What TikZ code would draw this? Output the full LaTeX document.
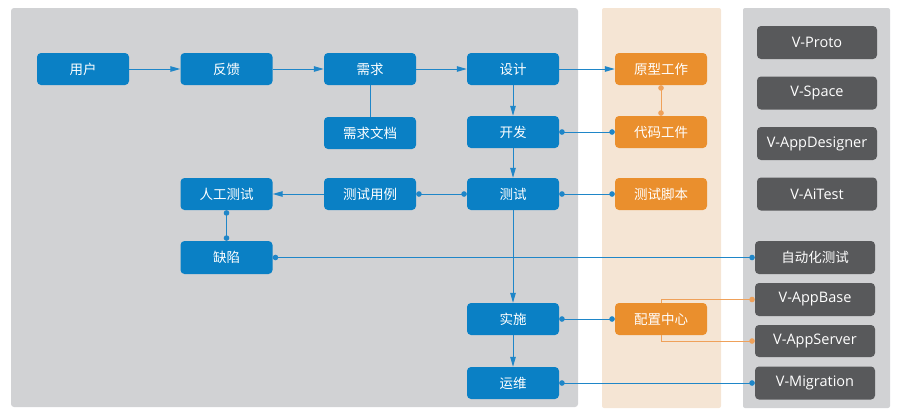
\documentclass[tikz,border=0pt]{standalone}
\usepackage{fontspec}
\setmainfont{Open Sans}
\newfontfamily\cjk{Noto Sans CJK SC}
\usetikzlibrary{arrows.meta}
\definecolor{pgray}{HTML}{D1D2D4}
\definecolor{porange}{HTML}{F5E5D4}
\definecolor{nblue}{HTML}{0A80C5}
\definecolor{norange}{HTML}{EA8F2D}
\definecolor{ndark}{HTML}{58595B}
\definecolor{lblue}{HTML}{1F86C8}
\definecolor{lorange}{HTML}{EFA15A}
\tikzset{
  bnode/.style={rectangle, rounded corners=4pt, fill=nblue, text=white, minimum width=92pt, minimum height=32pt, inner sep=0pt, font=\cjk\fontsize{13.5}{16}\selectfont},
  onode/.style={bnode, fill=norange},
  dnode/.style={rectangle, rounded corners=4pt, fill=ndark, text=white, minimum width=120pt, minimum height=33pt, inner sep=0pt, font=\fontsize{14.5}{16}\selectfont},
  cnode/.style={dnode, font=\cjk\fontsize{13.5}{16}\selectfont},
  blink/.style={draw=lblue, line width=1pt},
  olink/.style={draw=lorange, line width=1pt},
  arr/.style={-{Triangle[length=10pt,width=5.5pt]}},
  dots/.style={{Circle[length=5.5pt,width=5.5pt]}-{Circle[length=5.5pt,width=5.5pt]}},
  dotend/.style={-{Circle[length=5.5pt,width=5.5pt]}},
}
\begin{document}
\begin{tikzpicture}[x=1pt,y=-1pt]
\useasboundingbox (0,0) rectangle (900,418);
\fill[pgray, rounded corners=3pt] (11,8) rectangle (578,407);
\fill[porange, rounded corners=2pt] (602,8) rectangle (721,408);
\fill[pgray, rounded corners=2pt] (743,8) rectangle (890,408);

\node[bnode] (user) at (83,69) {用户};
\node[bnode] (fb) at (226.5,69) {反馈};
\node[bnode] (req) at (370,69) {需求};
\node[bnode] (reqdoc) at (370,133) {需求文档};
\node[bnode] (manual) at (226.5,194) {人工测试};
\node[bnode] (tcase) at (370,194) {测试用例};
\node[bnode] (design) at (513,69) {设计};
\node[bnode] (dev) at (513,132) {开发};
\node[bnode] (test) at (513,194) {测试};
\node[bnode, minimum height=33pt] (defect) at (226.5,257.5) {缺陷};
\node[bnode] (impl) at (513,319) {实施};
\node[bnode] (ops) at (513,383) {运维};

\node[onode] (proto) at (661,69) {原型工作};
\node[onode] (code) at (661,132) {代码工件};
\node[onode] (tscript) at (661,194) {测试脚本};
\node[onode] (config) at (661,319) {配置中心};

\node[dnode] (vproto) at (817,42.5) {V-Proto};
\node[dnode] (vspace) at (817,93) {V-Space};
\node[dnode] (vad) at (817,143.5) {V-AppDesigner};
\node[dnode] (vai) at (817,194) {V-AiTest};
\node[cnode] (auto) at (815,257.5) {自动化测试};
\node[dnode] (base) at (815,299.5) {V-AppBase};
\node[dnode, minimum height=32pt] (server) at (815,341) {V-AppServer};
\node[dnode] (mig) at (815,383) {V-Migration};

\draw[blink, arr] (user) -- (fb);
\draw[blink, arr] (fb) -- (req);
\draw[blink, arr] (req) -- (design);
\draw[blink] (req) -- (reqdoc);
\draw[blink, arr] (design) -- (proto);
\draw[blink, arr] (design) -- (dev);
\draw[blink, arr] (dev) -- (test);
\draw[blink, dots] (dev) -- (code);
\draw[olink, dots] (proto) -- (code);
\draw[blink, dots] (test) -- (tscript);
\draw[blink, dots] (test) -- (tcase);
\draw[blink, arr] (tcase) -- (manual);
\draw[blink, dots] (manual) -- (defect);
\draw[blink, dots] (defect) -- (auto);
\draw[blink, arr] (test) -- (impl);
\draw[blink, arr] (impl) -- (ops);
\draw[blink, dots] (impl) -- (config);
\draw[olink, dotend] (config.north) |- (base.west);
\draw[olink, dotend] (config.south) |- (server.west);
\draw[blink, dots] (ops) -- (mig);
\end{tikzpicture}
\end{document}
